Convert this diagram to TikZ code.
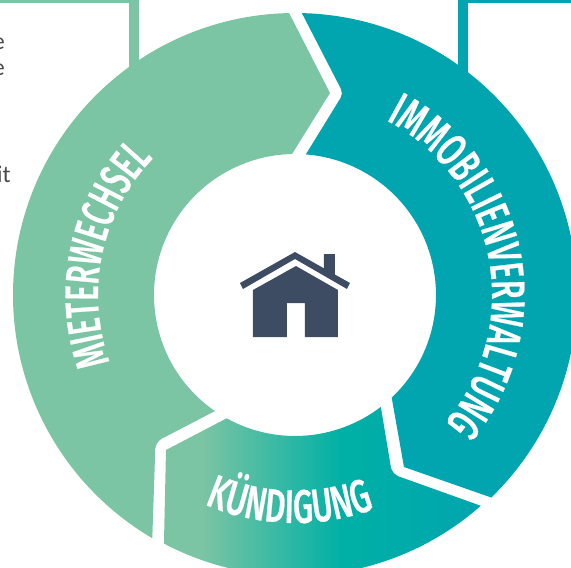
\documentclass[tikz,border=0pt]{standalone}
\usepackage{fontspec}
\usetikzlibrary{decorations.text}
\newfontfamily\ringfont[FakeStretch=0.65,FakeBold=0.5]{Fira Sans Medium}
\newfontfamily\ringfontA[FakeStretch=0.625,FakeBold=0.5]{Fira Sans Medium}
\newfontfamily\ringfontK[FakeStretch=0.675,FakeBold=0.5]{Fira Sans Medium}
\setmainfont{Carlito}
\definecolor{ringgreen}{HTML}{7BC4A4}
\definecolor{ringteal}{HTML}{00A5AF}
\definecolor{ringmid}{HTML}{00B0A5}
\definecolor{houseblue}{HTML}{3D4C63}
\definecolor{cuttext}{HTML}{4A4A4A}
\pgfdeclarehorizontalshading{ringshade}{100bp}{color(0bp)=(ringgreen); color(31bp)=(ringgreen); color(53bp)=(ringmid); color(75bp)=(ringteal); color(100bp)=(ringteal)}
\newcommand\ringtext{\ringfont\fontsize{47}{47}\selectfont\color{white}}
\newcommand\ringtextA{\ringfontA\fontsize{47}{47}\selectfont\color{white}}
\newcommand\ringtextK{\ringfontK\fontsize{47}{47}\selectfont\color{white}}
\tikzset{
  cuttxt/.style={anchor=base east,inner sep=0pt,text=cuttext,font=\fontsize{24}{24}\selectfont},
  ringlabel/.style 2 args={decorate,decoration={text along path,text align=center,text={|#1|#2}}}
}
\begin{document}
\begin{tikzpicture}[x=1pt,y=1pt]
\useasboundingbox (-295,-273) rectangle (276,295);
% frames behind the ring
\fill[ringgreen] (-295,292) rectangle (-156,295);
\fill[ringgreen] (-166,220) rectangle (-156,295);
\fill[ringteal] (163,292) rectangle (276,295);
\fill[ringteal] (163,220) rectangle (173,295);
% cut-off text
\node[cuttxt] (e1) at (-290,245) {e};
\node[cuttxt] (e2) at (-290,219) {e};
\node[cuttxt] (it) at (-284,112) {it};
% segments
\fill[ringgreen] (91.2:282) arc[start angle=91.2,end angle=239.6,radius=282]
  [rounded corners=7] -- (-139.5,-147) [sharp corners] -- (235.4:141)
  arc[start angle=235.4,end angle=91.2,radius=141] -- (35,202) -- cycle;
\fill[ringteal] (88.6:282) arc[start angle=88.6,end angle=-45.9,radius=282]
  -- (109,-172) -- (-46.7:141)
  arc[start angle=-46.7,end angle=85.6,radius=141]
  [rounded corners=5] -- (48.3,201.5) [sharp corners] -- cycle;
\shade[shading=ringshade] (242.2:281) arc[start angle=242.2,end angle=311.4,radius=281]
  [rounded corners=7] -- (97,-179) [sharp corners] -- (307.5:141)
  arc[start angle=307.5,end angle=241,radius=141] -- (-129,-155) -- cycle;
% labels
\path[ringlabel={\ringtextA}{MIETERWECHSEL}] (228:197) arc[start angle=228,end angle=108,radius=197];
\path[ringlabel={\ringtext}{IMMOBILIENVERWALTUNG}] (80:197) arc[start angle=80,end angle=-58,radius=197];
\path[ringlabel={\ringtextK}{KÜNDIGUNG}] (228:228) arc[start angle=228,end angle=309,radius=228];
% house
\fill[houseblue] (29,41) -- (40,41) -- (40,20) -- (29,26) -- cycle;
\fill[houseblue] (0,43) -- (55,12) -- (52,6) -- (0,36) -- (-52,6) -- (-55,12) -- cycle;
\fill[houseblue] (-42,5) -- (1,29) -- (43,5) -- (43,-42) -- (10,-42) -- (10,-8) -- (-8,-8) -- (-8,-42) -- (-42,-42) -- cycle;
\end{tikzpicture}
\end{document}
